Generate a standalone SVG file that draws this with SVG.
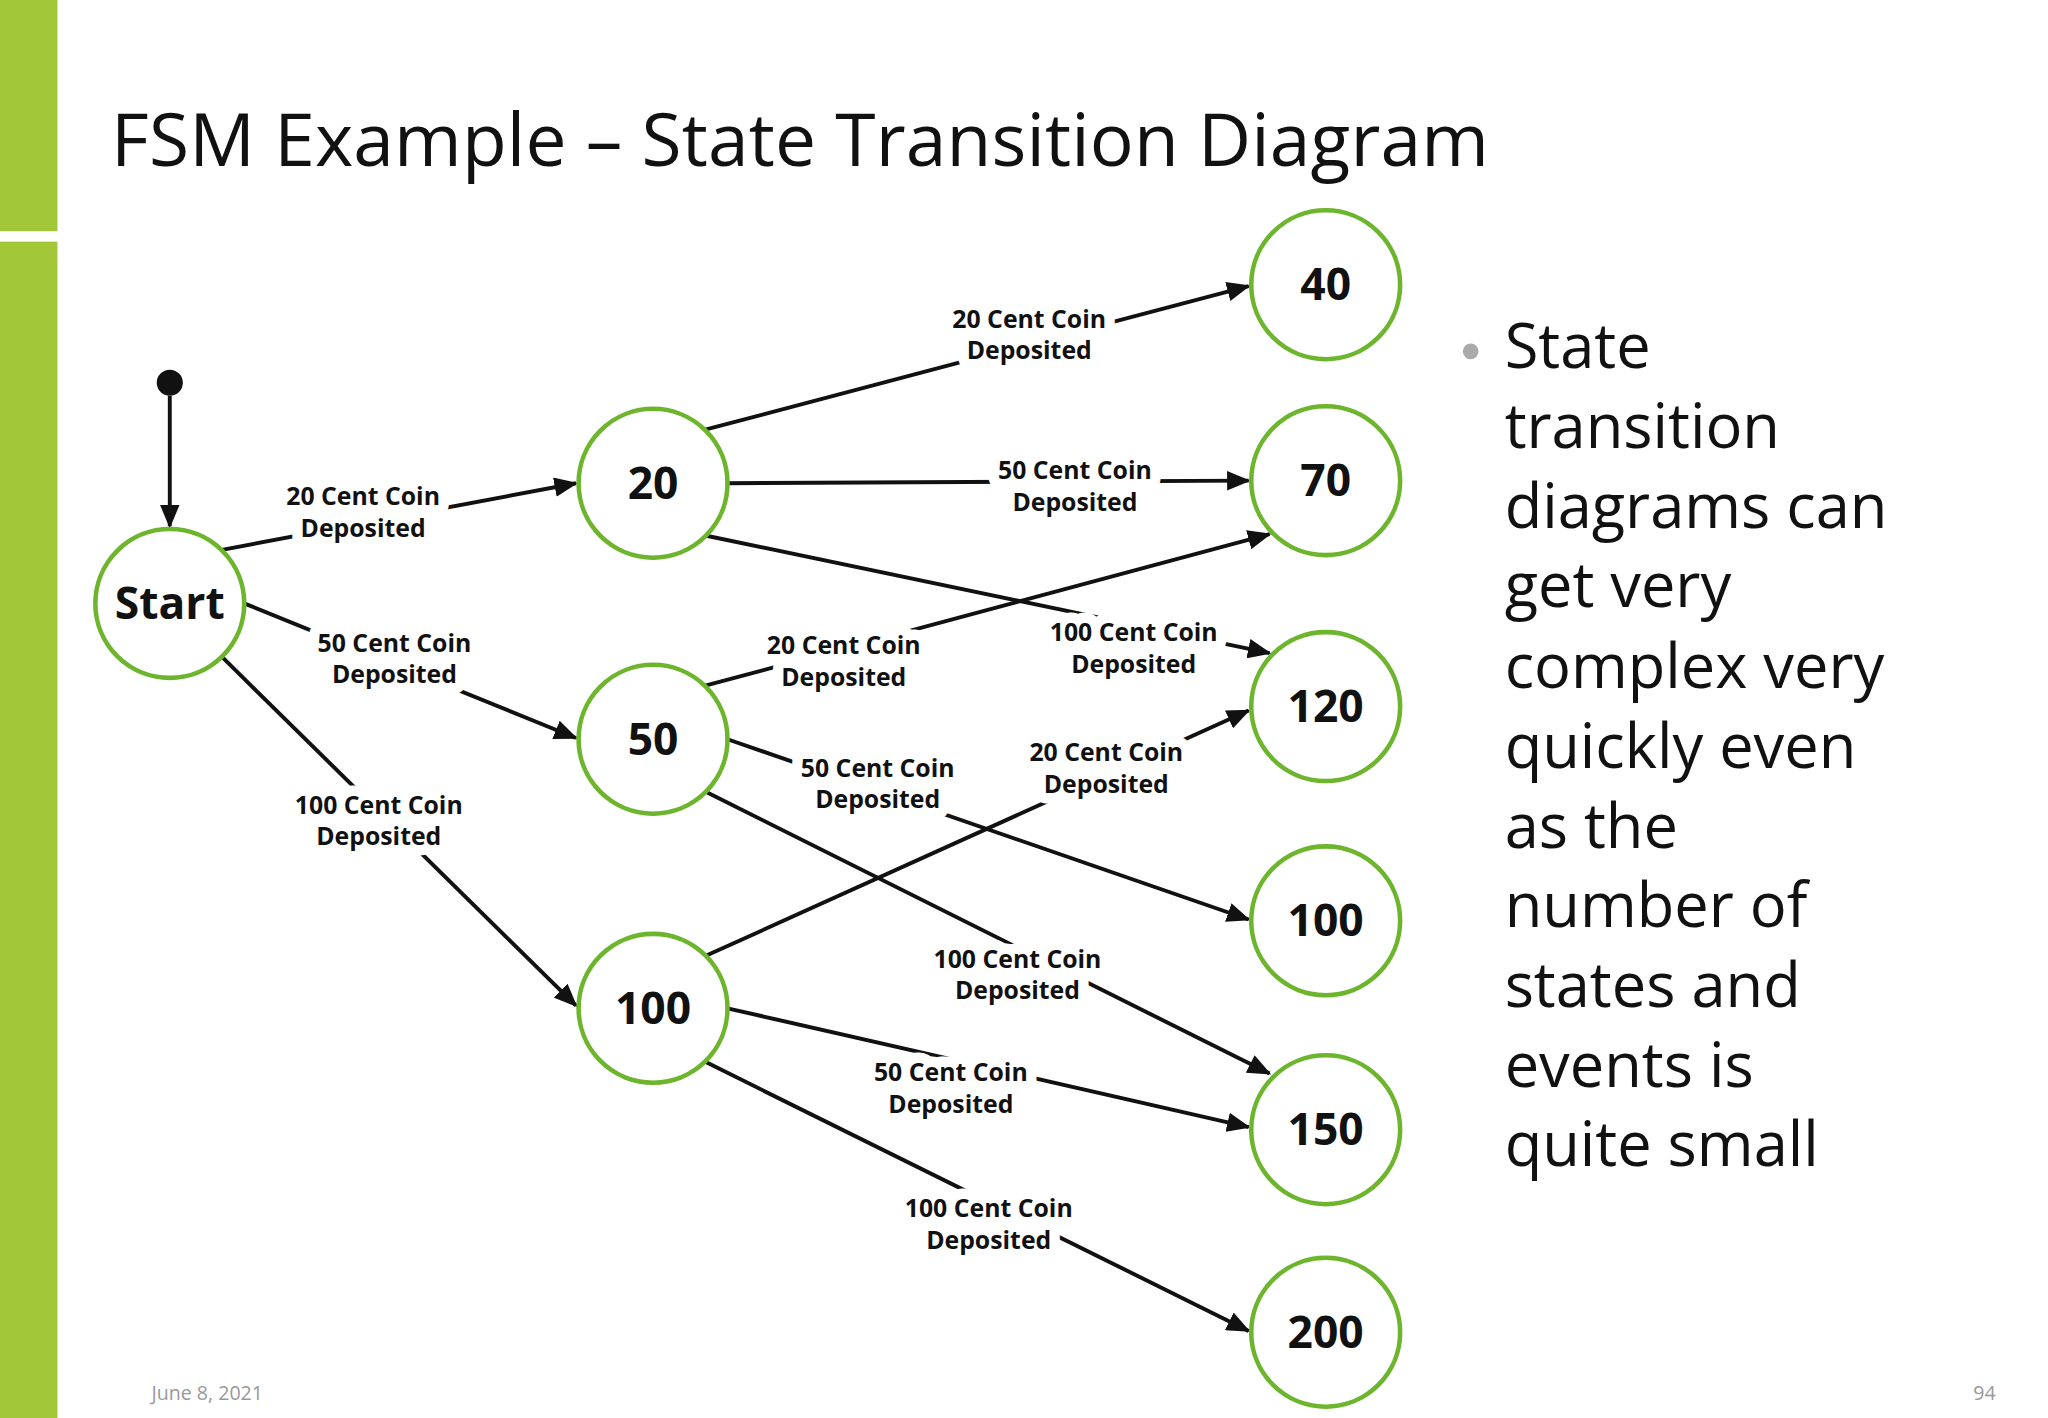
<svg xmlns="http://www.w3.org/2000/svg" width="2048" height="1418" viewBox="0 0 2048 1418">
<style>
.n circle{fill:#fff;stroke:#6cb52d;stroke-width:3.5}
.n text{font-family:"Open Sans",sans-serif;font-weight:bold;font-size:34px;text-anchor:middle;fill:#111}
.e line{stroke:#111;stroke-width:3;marker-end:url(#a)}
.lb{font-family:"Open Sans",sans-serif;font-weight:bold;font-size:19px;text-anchor:middle;fill:#111;stroke:#fff;stroke-width:16;paint-order:stroke;stroke-linejoin:round}
.bt{font-family:"Open Sans",sans-serif;font-size:47px;fill:#111}
</style>
<defs><marker id="a" markerWidth="6" markerHeight="5" refX="5.5" refY="2.5" orient="auto"><path d="M0,0L6,2.5L0,5z" fill="#111"/></marker></defs>
<rect width="2048" height="1418" fill="#fff"/>
<g transform="scale(1.3061)">
<rect x="0" y="0" width="44" height="177" fill="#a2c83a"/>
<rect x="0" y="185" width="44" height="901" fill="#a2c83a"/>
<text x="85" y="127" font-family="Open Sans,sans-serif" font-size="56" fill="#111" textLength="1055">FSM Example – State Transition Diagram</text>
<g id="connectors" class="e">
<circle cx="130" cy="293" r="10" fill="#111"/>
<line x1="130" y1="303" x2="130" y2="403"/>
<line x1="170" y1="421" x2="441" y2="370"/>
<line x1="187" y1="462" x2="441" y2="565"/>
<line x1="170" y1="503" x2="441" y2="770"/>
<line x1="540" y1="329" x2="956" y2="219"/>
<line x1="557" y1="370" x2="956" y2="368"/>
<line x1="540" y1="410" x2="972" y2="500"/>
<line x1="540" y1="525" x2="972" y2="409"/>
<line x1="557" y1="566" x2="956" y2="704"/>
<line x1="540" y1="606" x2="972" y2="822"/>
<line x1="540" y1="732" x2="956" y2="544"/>
<line x1="557" y1="772" x2="956" y2="863"/>
<line x1="540" y1="813" x2="956" y2="1019"/>
<g class="lb">
<text x="278" y="387">20 Cent Coin</text><text x="278" y="411">Deposited</text>
<text x="302" y="499">50 Cent Coin</text><text x="302" y="523">Deposited</text>
<text x="290" y="623">100 Cent Coin</text><text x="290" y="647">Deposited</text>
<text x="788" y="251">20 Cent Coin</text><text x="788" y="275">Deposited</text>
<text x="823" y="367">50 Cent Coin</text><text x="823" y="391">Deposited</text>
<text x="868" y="491">100 Cent Coin</text><text x="868" y="515">Deposited</text>
<text x="646" y="501">20 Cent Coin</text><text x="646" y="525">Deposited</text>
<text x="672" y="595">50 Cent Coin</text><text x="672" y="619">Deposited</text>
<text x="779" y="741">100 Cent Coin</text><text x="779" y="765">Deposited</text>
<text x="847" y="583">20 Cent Coin</text><text x="847" y="607">Deposited</text>
<text x="728" y="828">50 Cent Coin</text><text x="728" y="852">Deposited</text>
<text x="757" y="932">100 Cent Coin</text><text x="757" y="956">Deposited</text>
</g>
</g>
<g id="start" class="n"><circle cx="130" cy="462" r="57"/><text x="130" y="474">Start</text></g>
<g id="s20" class="n"><circle cx="500" cy="370" r="57"/><text x="500" y="382">20</text></g>
<g id="s50" class="n"><circle cx="500" cy="566" r="57"/><text x="500" y="578">50</text></g>
<g id="s100a" class="n"><circle cx="500" cy="772" r="57"/><text x="500" y="784">100</text></g>
<g id="s40" class="n"><circle cx="1015" cy="218" r="57"/><text x="1015" y="230">40</text></g>
<g id="s70" class="n"><circle cx="1015" cy="368" r="57"/><text x="1015" y="380">70</text></g>
<g id="s120" class="n"><circle cx="1015" cy="541" r="57"/><text x="1015" y="553">120</text></g>
<g id="s100b" class="n"><circle cx="1015" cy="705" r="57"/><text x="1015" y="717">100</text></g>
<g id="s150" class="n"><circle cx="1015" cy="865" r="57"/><text x="1015" y="877">150</text></g>
<g id="s200" class="n"><circle cx="1015" cy="1020" r="57"/><text x="1015" y="1032">200</text></g>
<circle cx="1126" cy="269" r="6" fill="#aaa"/>
<g class="bt">
<text x="1152" y="282">State</text><text x="1152" y="343">transition</text><text x="1152" y="404">diagrams can</text><text x="1152" y="465">get very</text><text x="1152" y="527">complex very</text><text x="1152" y="588">quickly even</text><text x="1152" y="649">as the</text><text x="1152" y="710">number of</text><text x="1152" y="771">states and</text><text x="1152" y="832">events is</text><text x="1152" y="893">quite small</text>
</g>
<text x="116" y="1072" font-family="Open Sans,sans-serif" font-size="15" fill="#999">June 8, 2021</text>
<text x="1528" y="1072" font-family="Open Sans,sans-serif" font-size="15" fill="#999" text-anchor="end">94</text>
</g>
</svg>
